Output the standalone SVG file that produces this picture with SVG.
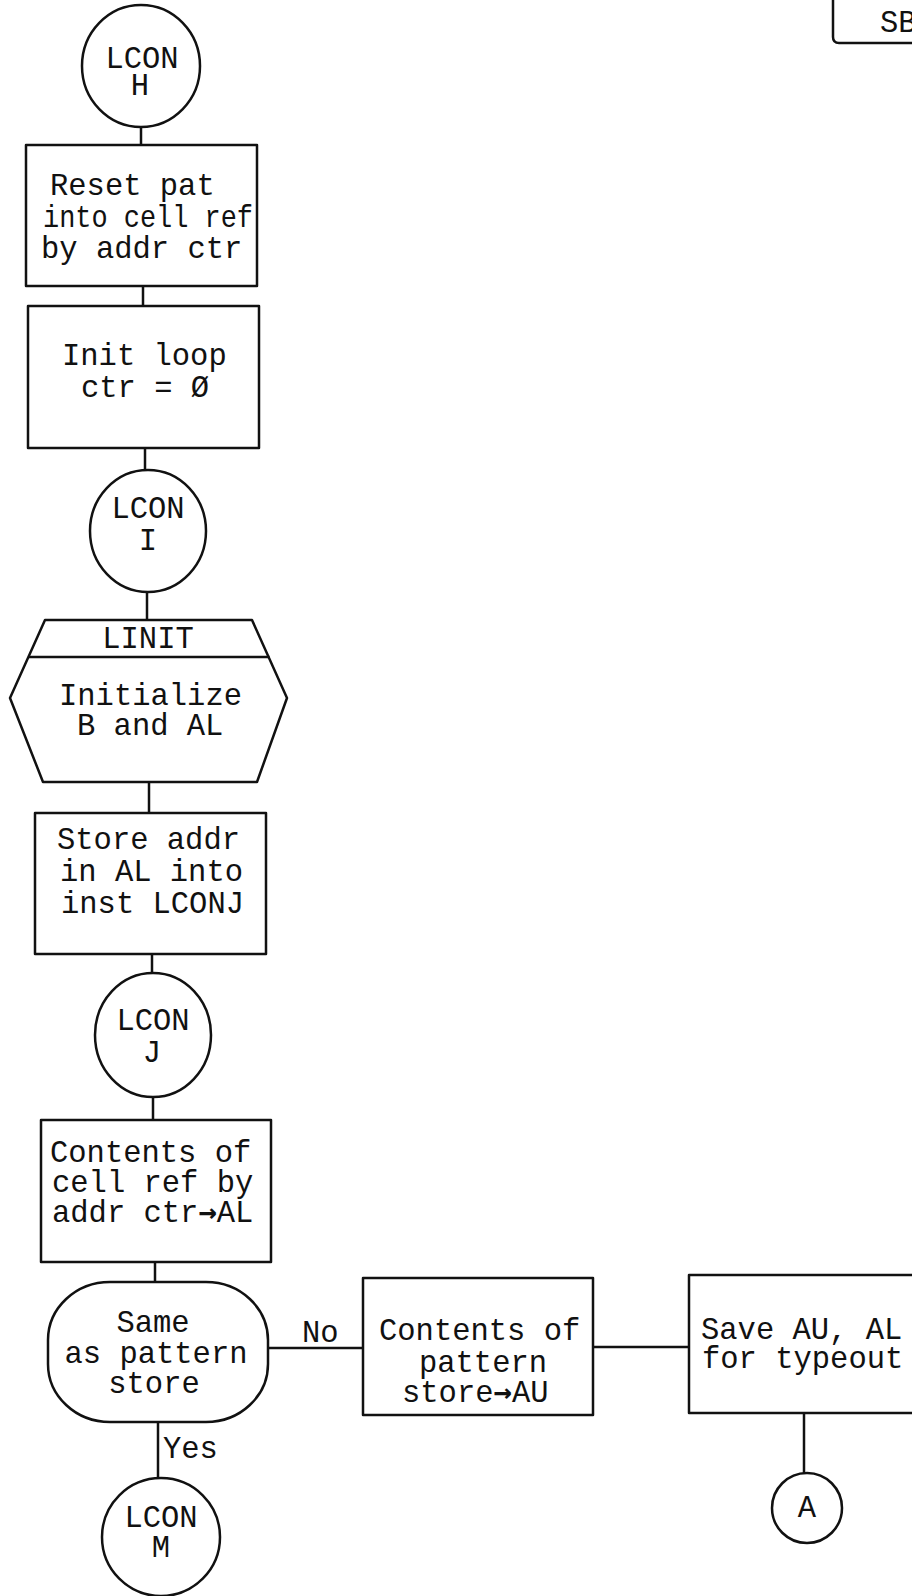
<svg xmlns="http://www.w3.org/2000/svg" width="912" height="1596" viewBox="0 0 912 1596">
<style>
.s{fill:none;stroke:#111;stroke-width:2.5;stroke-linejoin:round}
.c{fill:none;stroke:#111;stroke-width:2.5}
text{font-family:"Liberation Mono","DejaVu Sans Mono",monospace;font-size:30.5px;fill:#111}
.m{text-anchor:middle}
.ar{font-family:"DejaVu Sans Mono",monospace;font-weight:bold}
</style>
<rect x="0" y="0" width="912" height="1596" fill="#fff"/>
<g id="connectors">
<line class="c" x1="141" y1="127" x2="141" y2="145"/>
<line class="c" x1="143" y1="286" x2="143" y2="306"/>
<line class="c" x1="145" y1="448" x2="145" y2="470"/>
<line class="c" x1="147" y1="592" x2="147" y2="620"/>
<line class="c" x1="149" y1="782" x2="149" y2="813"/>
<line class="c" x1="152" y1="954" x2="152" y2="973"/>
<line class="c" x1="153" y1="1097" x2="153" y2="1120"/>
<line class="c" x1="155" y1="1262" x2="155" y2="1282"/>
<line class="c" x1="158" y1="1422" x2="158" y2="1478"/>
<text x="163" y="1458">Yes</text>
<line class="c" x1="268" y1="1348" x2="363" y2="1348"/>
<text x="302" y="1342">No</text>
<line class="c" x1="593" y1="1347" x2="689" y2="1347"/>
<line class="c" x1="804" y1="1413" x2="804" y2="1473"/>
</g>
<g id="sb">
<path class="s" d="M833 -5 V37 Q833 43 839 43 H915"/>
<text x="880" y="32">SB</text>
</g>
<g id="lconH">
<ellipse class="s" cx="141" cy="66" rx="59" ry="61"/>
<text class="m" x="142" y="68">LCON</text>
<text class="m" x="140" y="95">H</text>
</g>
<g id="reset">
<rect class="s" x="26" y="145" width="231" height="141"/>
<text x="50" y="195">Reset pat</text>
<text x="43" y="227" textLength="210" lengthAdjust="spacingAndGlyphs">into cell ref</text>
<text x="41" y="258">by addr ctr</text>
</g>
<g id="init">
<rect class="s" x="28" y="306" width="231" height="142"/>
<text x="62" y="365">Init loop</text>
<text x="81" y="397">ctr = Ø</text>
</g>
<g id="lconI">
<ellipse class="s" cx="148" cy="531" rx="58" ry="61"/>
<text class="m" x="148" y="518">LCON</text>
<text class="m" x="148" y="550">I</text>
</g>
<g id="linit">
<path class="s" d="M45 620 H252 L287 698 L257 782 H43 L10 698 Z"/>
<line class="s" x1="28.5" y1="657" x2="269.5" y2="657"/>
<text class="m" x="148" y="648">LINIT</text>
<text x="59" y="705">Initialize</text>
<text x="77" y="735">B and AL</text>
</g>
<g id="store">
<rect class="s" x="35" y="813" width="231" height="141"/>
<text x="57" y="849">Store addr</text>
<text x="60" y="881">in AL into</text>
<text x="61" y="913">inst LCONJ</text>
</g>
<g id="lconJ">
<ellipse class="s" cx="153" cy="1035" rx="58" ry="62"/>
<text class="m" x="153" y="1030">LCON</text>
<text class="m" x="152" y="1062">J</text>
</g>
<g id="contents">
<rect class="s" x="41" y="1120" width="230" height="142"/>
<text x="50" y="1162">Contents of</text>
<text x="52" y="1192">cell ref by</text>
<text x="52" y="1222">addr ctr<tspan class="ar">→</tspan>AL</text>
</g>
<g id="same">
<rect class="s" x="48" y="1282" width="220" height="140" rx="62" ry="58"/>
<text class="m" x="153" y="1332">Same</text>
<text class="m" x="156" y="1363">as pattern</text>
<text class="m" x="154" y="1393">store</text>
</g>
<g id="lconM">
<ellipse class="s" cx="161" cy="1537" rx="59" ry="59"/>
<text class="m" x="161" y="1527">LCON</text>
<text class="m" x="161" y="1557">M</text>
</g>
<g id="pattern">
<rect class="s" x="363" y="1278" width="230" height="137"/>
<text x="379" y="1340">Contents of</text>
<text class="m" x="483" y="1372">pattern</text>
<text x="402" y="1402">store<tspan class="ar">→</tspan>AU</text>
</g>
<g id="save">
<path class="s" d="M920 1275 H689 V1413 H920"/>
<text x="701" y="1339">Save AU, AL</text>
<text x="702" y="1368">for typeout</text>
</g>
<g id="connA">
<ellipse class="s" cx="807" cy="1508" rx="35" ry="35"/>
<text class="m" x="807" y="1517">A</text>
</g>
</svg>
